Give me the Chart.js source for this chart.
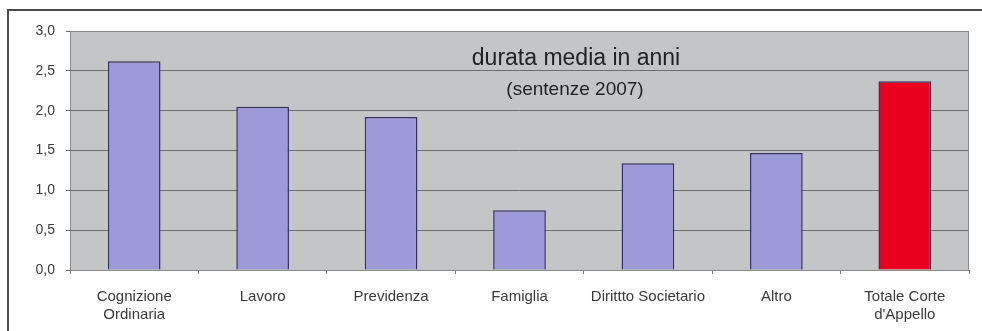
<!DOCTYPE html>
<html>
<head>
<meta charset="utf-8">
<script src="https://cdn.jsdelivr.net/npm/chart.js@4"></script>
<style>
  html, body { margin: 0; padding: 0; background: #fff; }
  #wrap { position: relative; width: 982px; height: 331px; }
</style>
</head>
<body>
<div id="wrap"><canvas id="grafico" width="982" height="331"></canvas></div>
<script>
const categorie = [["Cognizione", "Ordinaria"], "Lavoro", "Previdenza", "Famiglia", "Dirittto Societario", "Altro", ["Totale Corte", "d'Appello"]];
const durata = [2.62, 2.05, 1.92, 0.75, 1.34, 1.47, 2.37];
const coloriBarre = ["#9c9ad8", "#9c9ad8", "#9c9ad8", "#9c9ad8", "#9c9ad8", "#9c9ad8", "#e8001c"];
const titolo = "durata media in anni";
const sottotitolo = "(sentenze 2007)";

// sfondo grigio dell'area e cornice esterna
const sfondo = {
  id: "sfondo",
  beforeDraw(chart) {
    const { ctx, chartArea: a } = chart;
    ctx.save();
    ctx.strokeStyle = "#4a4a4a";
    ctx.lineWidth = 2;
    ctx.beginPath();
    ctx.moveTo(8, 340);
    ctx.lineTo(8, 10);
    ctx.lineTo(990, 10);
    ctx.stroke();
    ctx.fillStyle = "#c3c5c6";
    ctx.fillRect(a.left, a.top, a.right - a.left, a.bottom - a.top);
    ctx.restore();
  },
  afterDatasetsDraw(chart) {
    const { ctx, chartArea: a } = chart;
    ctx.save();
    ctx.strokeStyle = "#8a8a8a";
    ctx.lineWidth = 1;
    ctx.strokeRect(a.left + 0.5, a.top + 0.5, a.right - a.left - 1, a.bottom - a.top);
    ctx.fillStyle = "#222";
    ctx.textAlign = "center";
    ctx.textBaseline = "middle";
    ctx.font = "23px 'Liberation Sans', Arial, sans-serif";
    ctx.fillText(titolo, a.left + 506, a.top + 28);
    ctx.font = "19px 'Liberation Sans', Arial, sans-serif";
    ctx.fillText(sottotitolo, a.left + 505, a.top + 59);
    ctx.restore();
  }
};

let ctx = document.getElementById("grafico").getContext("2d");

new Chart(ctx, {
  type: "bar",
  data: {
    labels: categorie,
    datasets: [{
      data: durata,
      backgroundColor: coloriBarre,
      borderColor: "#303060",
      borderWidth: 1.5,
      borderSkipped: "bottom",
      categoryPercentage: 1,
      barPercentage: 0.41
    }]
  },
  options: {
    responsive: false,
    animation: false,
    layout: { padding: { top: 31, right: 13, left: 0, bottom: 0 } },
    plugins: { legend: { display: false }, tooltip: { enabled: false } },
    scales: {
      x: {
        afterFit(scale) { scale.height = 61; },
        grid: { drawOnChartArea: false, drawTicks: true, tickLength: 4, color: "#777", offset: true },
        border: { color: "#555" },
        ticks: {
          color: "#3a3a3a",
          padding: 14,
          maxRotation: 0,
          autoSkip: false,
          font: { family: "'Liberation Sans', Arial, sans-serif", size: 15, lineHeight: 1.2 }
        }
      },
      y: {
        min: 0,
        max: 3,
        afterFit(scale) { scale.width = 70; },
        grid: { color: "#6e6e6e", tickLength: 4, lineWidth: 1 },
        border: { display: false },
        ticks: {
          stepSize: 0.5,
          color: "#3a3a3a",
          padding: 11,
          font: { family: "'Liberation Sans', Arial, sans-serif", size: 14 },
          callback: (v) => v.toFixed(1).replace(".", ",")
        }
      }
    }
  },
  plugins: [sfondo]
});
</script>
</body>
</html>
